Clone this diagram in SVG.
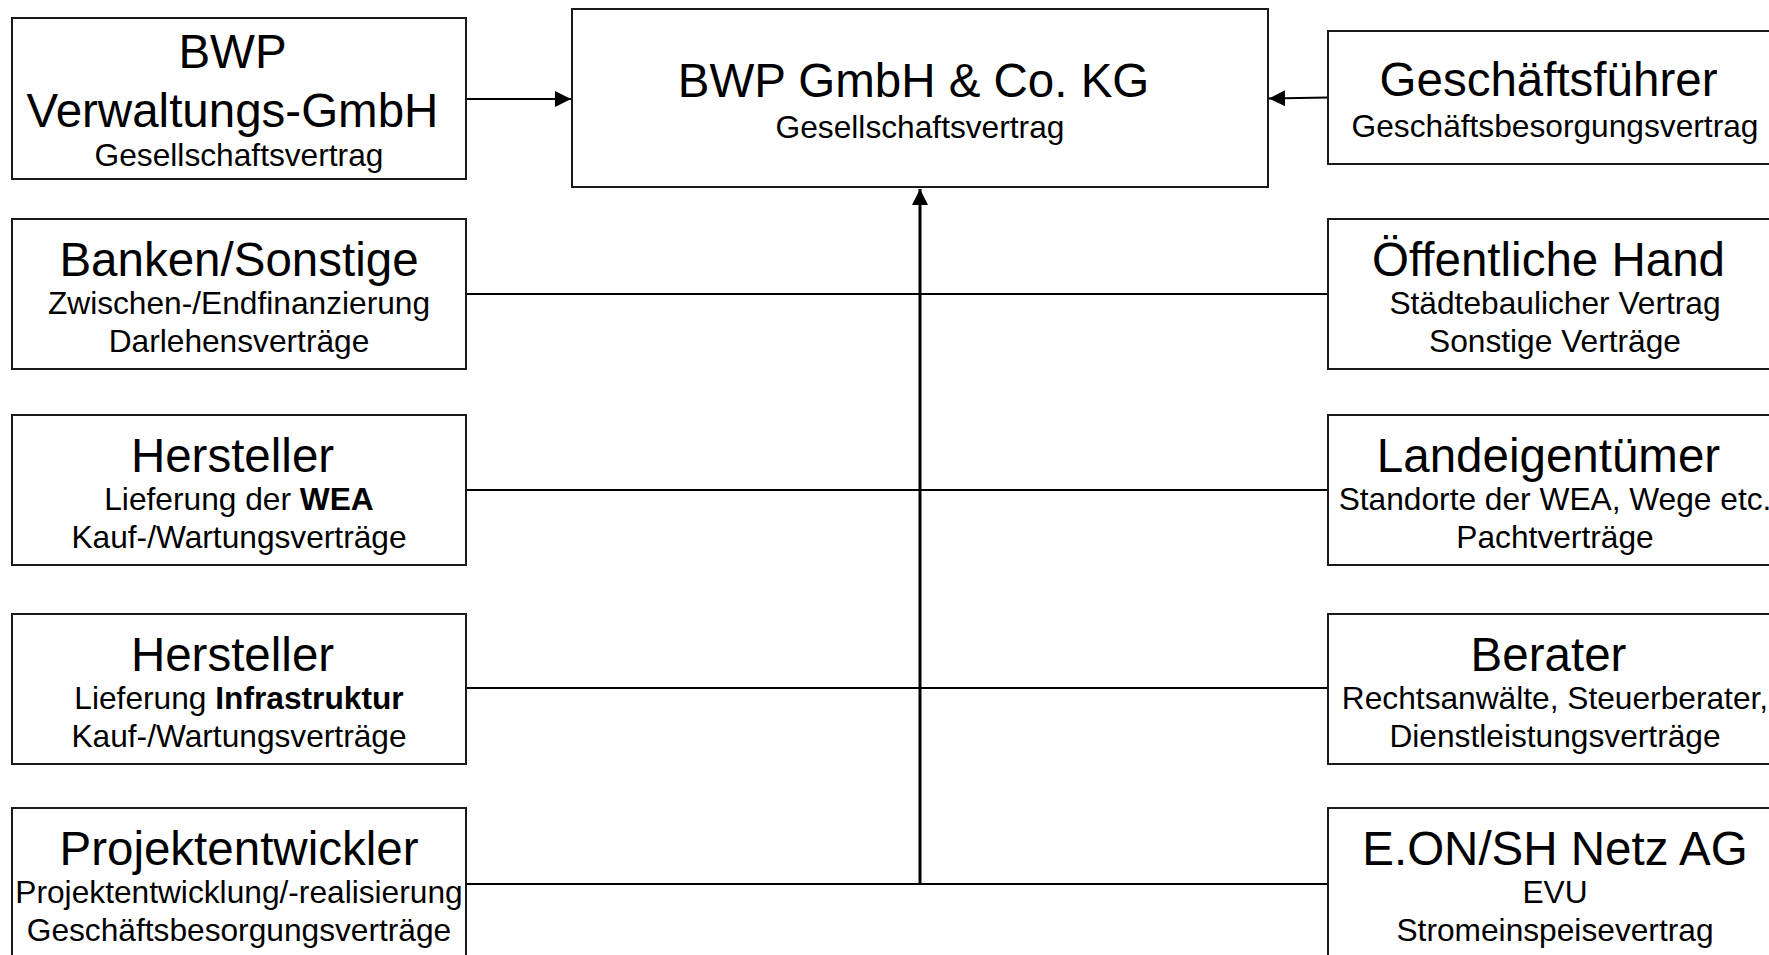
<svg xmlns="http://www.w3.org/2000/svg" width="1769" height="955" viewBox="0 0 1769 955">
<style>
  .box { fill: #ffffff; stroke: #1a1a1a; stroke-width: 2; }
  .t { font-family: "Liberation Sans", Arial, sans-serif; font-size: 47.5px; fill: #000; text-anchor: middle; }
  .s { font-family: "Liberation Sans", Arial, sans-serif; font-size: 31.7px; fill: #000; text-anchor: middle; }
  .b { font-weight: bold; }
  .conn { stroke: #000; stroke-width: 2.2; fill: none; }
  .main { stroke: #000; stroke-width: 3; fill: none; }
</style>
<defs>
  <marker id="arrow" markerUnits="userSpaceOnUse" markerWidth="16" markerHeight="16" refX="16" refY="8" orient="auto">
    <path d="M0,0 L16,8 L0,16 z" fill="#000"/>
  </marker>
</defs>
<rect width="1769" height="955" fill="#ffffff"/>

<g id="connectors">
  <line class="conn" x1="466" y1="99" x2="571" y2="99" marker-end="url(#arrow)"/>
  <line class="conn" x1="1328" y1="97.5" x2="1269" y2="98.5" marker-end="url(#arrow)"/>
  <line class="conn" x1="466" y1="294" x2="1328" y2="294"/>
  <line class="conn" x1="466" y1="490" x2="1328" y2="490"/>
  <line class="conn" x1="466" y1="688" x2="1328" y2="688"/>
  <line class="conn" x1="466" y1="884" x2="1328" y2="884"/>
  <line class="main" x1="920" y1="884" x2="920" y2="189" marker-end="url(#arrow)"/>
</g>

<g id="center">
  <rect class="box" x="572" y="9" width="696" height="178"/>
  <text class="t" x="913.5" y="97">BWP GmbH &amp; Co. KG</text>
  <text class="s" x="920" y="138">Gesellschaftsvertrag</text>
</g>

<g id="verwaltung">
  <rect class="box" x="12" y="18" width="454" height="161"/>
  <text class="t" x="232.5" y="68">BWP</text>
  <text class="t" x="232.5" y="127">Verwaltungs-GmbH</text>
  <text class="s" x="239" y="166">Gesellschaftsvertrag</text>
</g>

<g id="geschaeftsfuehrer">
  <rect class="box" x="1328" y="31" width="454" height="133"/>
  <text class="t" x="1548.5" y="96">Geschäftsführer</text>
  <text class="s" x="1555" y="137">Geschäftsbesorgungsvertrag</text>
</g>

<g id="banken">
  <rect class="box" x="12" y="219" width="454" height="150"/>
  <text class="t" x="239" y="276">Banken/Sonstige</text>
  <text class="s" x="239" y="314">Zwischen-/Endfinanzierung</text>
  <text class="s" x="239" y="352">Darlehensverträge</text>
</g>

<g id="hersteller-wea">
  <rect class="box" x="12" y="415" width="454" height="150"/>
  <text class="t" x="232.5" y="472">Hersteller</text>
  <text class="s" x="239" y="510">Lieferung der <tspan class="b">WEA</tspan></text>
  <text class="s" x="239" y="548">Kauf-/Wartungsverträge</text>
</g>

<g id="hersteller-infra">
  <rect class="box" x="12" y="614" width="454" height="150"/>
  <text class="t" x="232.5" y="671">Hersteller</text>
  <text class="s" x="239" y="709">Lieferung <tspan class="b">Infrastruktur</tspan></text>
  <text class="s" x="239" y="747">Kauf-/Wartungsverträge</text>
</g>

<g id="projektentwickler">
  <rect class="box" x="12" y="808" width="454" height="152"/>
  <text class="t" x="239" y="865">Projektentwickler</text>
  <text class="s" x="239" y="903">Projektentwicklung/-realisierung</text>
  <text class="s" x="239" y="941">Geschäftsbesorgungsverträge</text>
</g>

<g id="oeffentliche-hand">
  <rect class="box" x="1328" y="219" width="454" height="150"/>
  <text class="t" x="1548.5" y="276">Öffentliche Hand</text>
  <text class="s" x="1555" y="314">Städtebaulicher Vertrag</text>
  <text class="s" x="1555" y="352">Sonstige Verträge</text>
</g>

<g id="landeigentuemer">
  <rect class="box" x="1328" y="415" width="454" height="150"/>
  <text class="t" x="1548.5" y="472">Landeigentümer</text>
  <text class="s" x="1555" y="510">Standorte der WEA, Wege etc.</text>
  <text class="s" x="1555" y="548">Pachtverträge</text>
</g>

<g id="berater">
  <rect class="box" x="1328" y="614" width="454" height="150"/>
  <text class="t" x="1548.5" y="671">Berater</text>
  <text class="s" x="1555" y="709">Rechtsanwälte, Steuerberater,</text>
  <text class="s" x="1555" y="747">Dienstleistungsverträge</text>
</g>

<g id="eon">
  <rect class="box" x="1328" y="808" width="454" height="152"/>
  <text class="t" x="1555" y="865">E.ON/SH Netz AG</text>
  <text class="s" x="1555" y="903">EVU</text>
  <text class="s" x="1555" y="941">Stromeinspeisevertrag</text>
</g>
</svg>
